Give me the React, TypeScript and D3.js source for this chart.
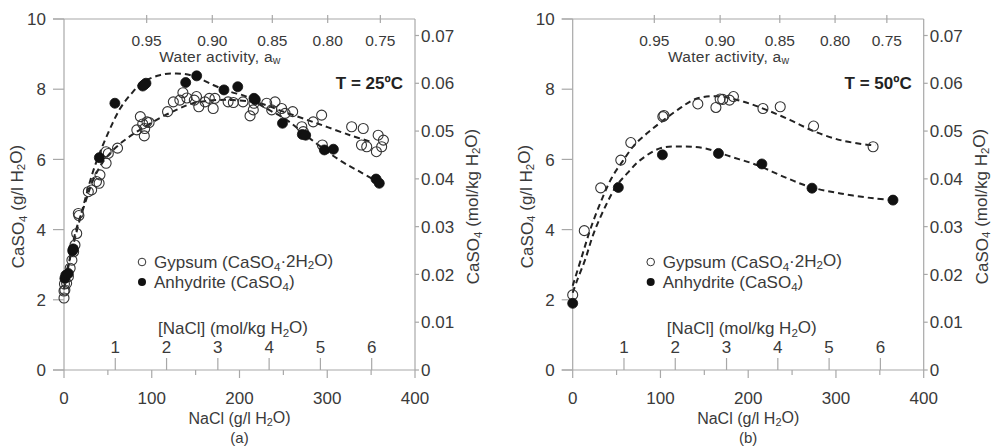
import React from "react";
import * as d3 from "d3";

// ---------- data ----------
const gypsum25: [number, number][] = [
  [0, 2.05], [0, 2.25], [0.5, 2.45], [1, 2.28], [3, 2.47], [5, 2.66], [7, 2.9], [9, 3.13], [11, 3.37],
  [12.5, 3.56], [14.5, 3.89], [16.3, 4.46], [17, 4.4], [27.7, 5.08], [31.5, 5.13], [37, 5.37],
  [40, 5.32], [41, 5.56], [48, 5.89], [50.5, 6.17], [48, 6.22], [61, 6.32], [83, 6.84], [87, 7.22],
  [89.7, 7.01], [92, 6.88], [91.5, 6.67], [94.5, 7.07], [97, 7.05], [118, 7.36], [124.6, 7.64],
  [135.5, 7.9], [132, 7.69], [140, 7.75], [148.5, 7.69], [151, 7.79], [153.6, 7.5], [160.7, 7.64],
  [165.6, 7.74], [170, 7.45], [172, 7.74], [187, 7.64], [193, 7.62], [204, 7.64], [212, 7.24],
  [215.7, 7.41], [216.5, 7.6], [231, 7.6], [240.5, 7.64], [236.7, 7.41], [248, 7.45], [252, 7.31],
  [260.6, 7.36], [271, 6.93], [272.7, 6.79], [284, 7.07], [293.6, 7.26], [294.4, 6.41], [327.8, 6.93],
  [341, 6.88], [339, 6.41], [345, 6.36], [358, 6.69], [364, 6.55], [362, 6.36], [356, 6.22],
];
const anhydrite25: [number, number][] = [
  [1, 2.61], [2, 2.7], [4.9, 2.75], [9.9, 3.4], [10.6, 3.45], [40.3, 6.05], [58, 7.6], [89.7, 8.09],
  [93.4, 8.17], [91.5, 8.13], [138.7, 8.19], [151.2, 8.38], [182.3, 7.98], [198, 8.07], [216.5, 7.74],
  [218, 7.7], [249, 7.03], [271.6, 6.71], [275.4, 6.69], [296.7, 6.27], [307, 6.29], [355.6, 5.44],
  [359.3, 5.32],
];
const gypsumFit25: [number, number][] = [
  [0, 2.3], [5, 2.95], [10, 3.6], [15, 4.1], [22, 4.6], [33, 5.4], [45, 5.95], [60, 6.36], [77, 6.69],
  [105, 7.12], [128, 7.41], [147, 7.6], [174, 7.69], [193, 7.69], [223, 7.6], [250, 7.36], [288, 7.03],
  [326, 6.69], [350, 6.5],
];
const anhydriteFit25: [number, number][] = [
  [0, 2.55], [5, 3.0], [10, 3.5], [15, 4.0], [25, 4.95], [33, 5.65], [41, 6.2], [52, 6.85], [64, 7.45],
  [77, 7.88], [90, 8.2], [109, 8.4], [128, 8.45], [147, 8.38], [170, 8.12], [189, 7.93], [208, 7.79],
  [227, 7.5], [254, 7.12], [280, 6.6], [314, 5.98], [337, 5.65], [358, 5.35],
];

const gypsum50: [number, number][] = [
  [0, 2.14], [13.2, 3.97], [31.9, 5.19], [54.8, 5.98], [66.2, 6.48], [102.7, 7.22], [104, 7.25],
  [142.6, 7.58], [163.2, 7.48], [168, 7.72], [171, 7.71], [178.7, 7.69], [183.2, 7.79], [216.8, 7.45],
  [236.5, 7.5], [274.5, 6.95], [342.3, 6.36],
];
const anhydrite50: [number, number][] = [
  [0, 1.9], [52, 5.2], [102.2, 6.13], [166.1, 6.17], [215.6, 5.87], [272.7, 5.18], [365, 4.84],
];
const gypsumFit50: [number, number][] = [
  [0, 2.4], [10, 3.2], [20, 4.0], [33, 4.85], [45, 5.5], [57, 5.95], [70, 6.4], [85, 6.75], [100, 7.05],
  [120, 7.42], [140, 7.72], [165, 7.8], [195, 7.64], [220, 7.42], [248, 7.12], [275, 6.8], [305, 6.55],
  [335, 6.42], [345, 6.4],
];
const anhydriteFit50: [number, number][] = [
  [0, 2.2], [5, 2.55], [14, 3.13], [24, 3.9], [38, 4.7], [50, 5.25], [62, 5.6], [77, 5.98], [100, 6.32],
  [125, 6.37], [150, 6.32], [180, 6.08], [210, 5.84], [240, 5.51], [270, 5.22], [305, 5.03], [343, 4.89],
  [365, 4.84],
];

const xTicks = [0, 100, 200, 300, 400];
const xMinorTicks = [50, 150, 250, 350];
const yTicks = [0, 2, 4, 6, 8, 10];
const molTicks = [0, 0.01, 0.02, 0.03, 0.04, 0.05, 0.06, 0.07];
const naclMolTicks = [1, 2, 3, 4, 5, 6];
const awLabels = ["0.95", "0.90", "0.85", "0.80", "0.75"];
const awPos25 = [94.2, 169, 237.4, 300.5, 360.5]; // NaCl g/l positions of aw ticks
const awPos50 = [93, 168, 236, 299, 358];

const NACL_MOLAR = 58.44; // g/mol
const CASO4_FACTOR = 1 / 136.14; // g/l -> mol/kg

const FONT = "'Liberation Sans', Arial, sans-serif";
const TXT = "#3a3a3a";
const AX = "#a8a8a8";
const FS = 17;

function Sub({ children }: { children: React.ReactNode }) {
  return (
    <tspan fontSize="0.68em" dy="0.22em">
      {children}
    </tspan>
  );
}

type PanelProps = {
  x0: number;
  gyp: [number, number][];
  anh: [number, number][];
  gypFit: [number, number][];
  anhFit: [number, number][];
  awPos: number[];
  temp: string;
  letter: string;
};

function Panel({ x0, gyp, anh, gypFit, anhFit, awPos, temp, letter }: PanelProps) {
  const W = 351;
  const top = 19;
  const bottom = 370;
  const x = d3.scaleLinear().domain([0, 400]).range([x0, x0 + W]);
  const y = d3.scaleLinear().domain([0, 10]).range([bottom, top]);
  const yMol = d3.scaleLinear().domain([0, 10 * CASO4_FACTOR]).range([bottom, top]);
  const line = d3
    .line<[number, number]>()
    .x((d) => x(d[0]))
    .y((d) => y(d[1]))
    .curve(d3.curveCatmullRom.alpha(0.5));
  const right = x0 + W;
  const cx = x0 + W / 2;
  return (
    <g fontFamily={FONT} fill={TXT}>
      {/* axes */}
      <line x1={x0} x2={x0} y1={top} y2={bottom} stroke={AX} strokeWidth={1.2} />
      <line x1={right} x2={right} y1={top} y2={bottom} stroke={AX} strokeWidth={1.2} />
      <line x1={x0 - 11} x2={right} y1={bottom} y2={bottom} stroke={AX} strokeWidth={1.2} />
      <line x1={x0 - 11} x2={right} y1={top} y2={top} stroke={AX} strokeWidth={1.2} />
      {/* left y ticks */}
      {yTicks.map((t) => (
        <g key={"y" + t}>
          <line x1={x0 - 11} x2={x0} y1={y(t)} y2={y(t)} stroke={AX} strokeWidth={1.2} />
          <text x={x0 - 18} y={y(t)} dy="0.36em" textAnchor="end" fontSize={FS}>
            {t}
          </text>
        </g>
      ))}
      {/* right mol ticks */}
      {molTicks.map((t) => (
        <g key={"m" + t}>
          <line x1={right} x2={right + 4} y1={yMol(t)} y2={yMol(t)} stroke={AX} strokeWidth={1.2} />
          <text x={right + 6} y={yMol(t)} dy="0.36em" fontSize={FS}>
            {t === 0 ? "0" : t.toFixed(2)}
          </text>
        </g>
      ))}
      {/* bottom x ticks */}
      {xTicks.map((t) => (
        <g key={"x" + t}>
          <line x1={x(t)} x2={x(t)} y1={bottom} y2={bottom + 8} stroke={AX} strokeWidth={1.2} />
          <text x={x(t)} y={bottom + 34} textAnchor="middle" fontSize={FS}>
            {t}
          </text>
        </g>
      ))}
      {xMinorTicks.map((t) => (
        <line key={"xm" + t} x1={x(t)} x2={x(t)} y1={bottom} y2={bottom + 5} stroke={AX} strokeWidth={1.2} />
      ))}
      {/* NaCl mol/kg ticks */}
      {naclMolTicks.map((t) => (
        <g key={"n" + t}>
          <line x1={x(t * NACL_MOLAR)} x2={x(t * NACL_MOLAR)} y1={bottom} y2={bottom - 12} stroke={AX} strokeWidth={1.2} />
          <text x={x(t * NACL_MOLAR)} y={bottom - 17} textAnchor="middle" fontSize={FS}>
            {t}
          </text>
        </g>
      ))}
      <text x={x0 + 169} y={bottom - 36} textAnchor="middle" fontSize={FS}>
        [NaCl] (mol/kg H<Sub>2</Sub>
        <tspan dy="-0.22em">O)</tspan>
      </text>
      {/* water activity ticks */}
      {awPos.map((p, i) => (
        <g key={"a" + i}>
          <line x1={x(p)} x2={x(p)} y1={top - 4} y2={top + 4} stroke={AX} strokeWidth={1.2} />
          <text x={x(p)} y={top + 27} textAnchor="middle" fontSize={15.5}>
            {awLabels[i]}
          </text>
        </g>
      ))}
      <text x={x0 + 156} y={top + 43} textAnchor="middle" fontSize={15.5} letterSpacing={0.3}>
        Water activity, a<Sub>w</Sub>
      </text>
      <text x={right - 12} y={top + 70} textAnchor="end" fontSize={17} fontWeight="bold" fill="#222">
        {temp}
      </text>
      {/* axis titles */}
      <text x={cx} y={bottom + 54} textAnchor="middle" fontSize={16}>
        NaCl (g/l H<Sub>2</Sub>
        <tspan dy="-0.22em">O)</tspan>
      </text>
      <text x={cx} y={bottom + 73} textAnchor="middle" fontSize={15}>
        {letter}
      </text>
      <text transform={`translate(${x0 - 40},${(top + bottom) / 2 + 12}) rotate(-90)`} textAnchor="middle" fontSize={FS}>
        CaSO<Sub>4</Sub>
        <tspan dy="-0.22em"> (g/l H</tspan>
        <Sub>2</Sub>
        <tspan dy="-0.22em">O)</tspan>
      </text>
      <text transform={`translate(${right + 64},${(top + bottom) / 2 + 12}) rotate(-90)`} textAnchor="middle" fontSize={FS}>
        CaSO<Sub>4</Sub>
        <tspan dy="-0.22em">  (mol/kg H</tspan>
        <Sub>2</Sub>
        <tspan dy="-0.22em">O)</tspan>
      </text>
      {/* fit curves */}
      <path d={line(gypFit) || ""} fill="none" stroke="#222" strokeWidth={2} strokeDasharray="6,4" />
      <path d={line(anhFit) || ""} fill="none" stroke="#222" strokeWidth={2} strokeDasharray="6,4" />
      {/* points */}
      {gyp.map((d, i) => (
        <circle key={"g" + i} cx={x(d[0])} cy={y(d[1])} r={5} fill="none" stroke="#333" strokeWidth={1.1} />
      ))}
      {anh.map((d, i) => (
        <circle key={"h" + i} cx={x(d[0])} cy={y(d[1])} r={5} fill="#111" stroke="#111" strokeWidth={0.8} />
      ))}
      {/* legend */}
      <circle cx={x0 + 78} cy={262} r={3.8} fill="none" stroke="#333" strokeWidth={1} />
      <text x={x0 + 90} y={262} dy="0.36em" fontSize={FS}>
        Gypsum (CaSO<Sub>4</Sub>
        <tspan dy="-0.22em">·2H</tspan>
        <Sub>2</Sub>
        <tspan dy="-0.22em">O)</tspan>
      </text>
      <circle cx={x0 + 78} cy={282} r={4} fill="#111" />
      <text x={x0 + 90} y={282} dy="0.36em" fontSize={FS}>
        Anhydrite (CaSO<Sub>4</Sub>
        <tspan dy="-0.22em">)</tspan>
      </text>
    </g>
  );
}

export default function App() {
  return (
    <svg
      width={993}
      height={448}
      style={{ position: "absolute", left: 0, top: 0, background: "#fff" }}
    >
      <rect width={993} height={448} fill="#fff" />
      <Panel x0={64} gyp={gypsum25} anh={anhydrite25} gypFit={gypsumFit25} anhFit={anhydriteFit25} awPos={awPos25} temp="T = 25ºC" letter="(a)" />
      <Panel x0={572.7} gyp={gypsum50} anh={anhydrite50} gypFit={gypsumFit50} anhFit={anhydriteFit50} awPos={awPos50} temp="T = 50ºC" letter="(b)" />
    </svg>
  );
}
